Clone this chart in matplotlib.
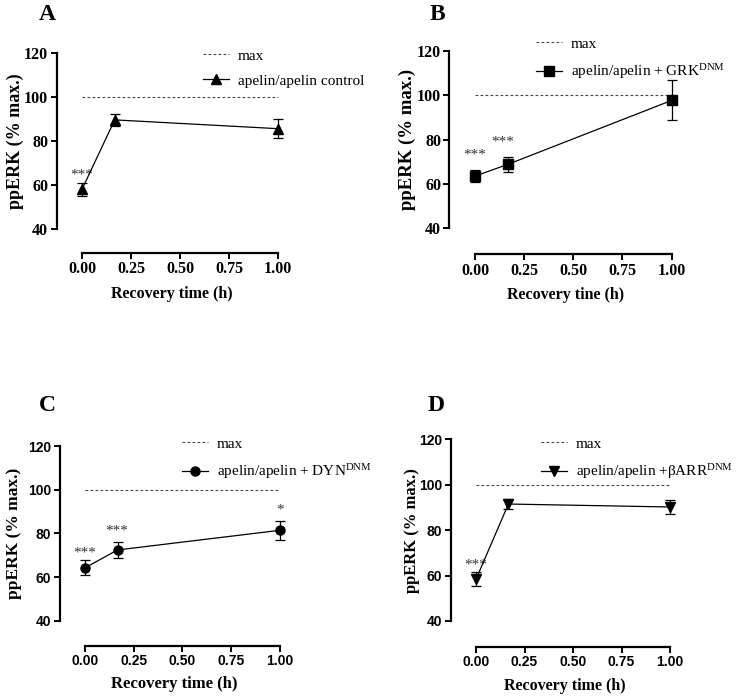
import matplotlib
matplotlib.use("Agg")
import matplotlib.pyplot as plt
from matplotlib.lines import Line2D

plt.rcParams['font.family'] = ['Liberation Serif', 'DejaVu Serif']
plt.rcParams['mathtext.fontset'] = 'custom'
plt.rcParams['mathtext.rm'] = 'Liberation Serif'
plt.rcParams['mathtext.it'] = 'Liberation Serif:italic'
plt.rcParams['mathtext.bf'] = 'Liberation Serif:bold'

# recovery times (h)
times = [0.0, 0.167, 1.0]

# ppERK (% max.) means and SEM per panel
mean_a = [58.0, 89.6, 85.6]
err_a = [3.1, 2.8, 4.2]
mean_b = [63.5, 68.8, 97.6]
err_b = [2.6, 3.4, 9.0]
mean_c = [64.2, 72.4, 81.4]
err_c = [3.4, 3.6, 4.3]
mean_d = [58.4, 91.5, 90.2]
err_d = [3.0, 2.0, 3.0]

labels = ['apelin/apelin control',
          r'apelin/apelin + GRK$^{\mathrm{DNM}}$',
          r'apelin/apelin + DYN$^{\mathrm{DNM}}$',
          'apelin/apelin +\u03b2ARR$^{\\mathrm{DNM}}$']

# significance marks: (text, x, y)
stars_a = [('***', 0.0, 64.5)]
stars_b = [('***', 0.0, 73.0), ('***', 0.14, 79.0)]
stars_c = [('***', 0.0, 71.0), ('***', 0.163, 81.2), ('*', 1.0, 90.6)]
stars_d = [('***', 0.0, 64.6)]

W, H = 738, 698
fig = plt.figure(figsize=(W / 100, H / 100), dpi=100)


def px_axes(left, right, top, bottom):
    return fig.add_axes([left / W, 1 - bottom / H, (right - left) / W, (bottom - top) / H])


panels = [
    dict(letter='A', lpos=(47, 14), box=(56.5, 287.8, 53, 229), off=24,
         mean=mean_a, err=err_a, marker='^', ms=7, label=labels[0], stars=stars_a,
         leg=(203, 49), tickfont='Liberation Serif', tsize=11.5, ysize=13, ylx=24,
         xlabel='Recovery time (h)', xsize=11.5),
    dict(letter='B', lpos=(437, 14), box=(449.4, 681.5, 50.7, 228.3), off=26,
         mean=mean_b, err=err_b, marker='s', ms=6.5, label=labels[1], stars=stars_b,
         leg=(536, 37), tickfont='Liberation Serif', tsize=11.5, ysize=13.5, ylx=416,
         xlabel='Recovery tine (h)', xsize=11.5),
    dict(letter='C', lpos=(47, 406), box=(59.6, 289.75, 446, 620.7), off=25,
         mean=mean_c, err=err_c, marker='o', ms=6.5, label=labels[2], stars=stars_c,
         leg=(182, 437), tickfont='Liberation Sans', tsize=10, ysize=12.5, ylx=22,
         xlabel='Recovery time (h)', xsize=12),
    dict(letter='D', lpos=(436, 406), box=(450.8, 679.7, 439.3, 621), off=26,
         mean=mean_d, err=err_d, marker='v', ms=7, label=labels[3], stars=stars_d,
         leg=(541, 437), tickfont='Liberation Sans', tsize=10, ysize=12, ylx=420,
         xlabel='Recovery time (h)', xsize=11.5),
]

for p in panels:
    ax = px_axes(*p['box'])
    ax.set_xlim(-0.13, 1.05)
    ax.set_ylim(40, 120)

    ax.plot([0, 1], [100, 100], color='#444444', lw=0.8,
            linestyle=(0, (2.5, 2)), clip_on=False)
    ax.errorbar(times, p['mean'], yerr=p['err'], color='black', lw=0.9,
                marker=p['marker'], ms=p['ms'], elinewidth=0.9, capsize=3.5,
                capthick=0.9, clip_on=False, zorder=3)

    for txt, sx, sy in p['stars']:
        ax.text(sx, sy, txt, ha='center', va='center', fontsize=11,
                color='#333333')

    for s in ['top', 'right']:
        ax.spines[s].set_visible(False)
    ax.spines['left'].set_bounds(40, 120)
    ax.spines['bottom'].set_bounds(0, 1)
    ax.spines['bottom'].set_position(('outward', p['off'] * 0.72))
    for s in ['left', 'bottom']:
        ax.spines[s].set_linewidth(1.6)

    ax.set_yticks([40, 60, 80, 100, 120])
    ax.set_xticks([0, 0.25, 0.5, 0.75, 1.0])
    ax.set_xticklabels(['0.00', '0.25', '0.50', '0.75', '1.00'])
    ax.tick_params(axis='both', direction='out', length=4.5, width=1.4, pad=1.5)
    for lab in ax.get_xticklabels() + ax.get_yticklabels():
        lab.set_fontfamily(p['tickfont'])
        lab.set_fontweight('bold')
        lab.set_fontsize(p['tsize'])

    ax.set_ylabel('ppERK (% max.)', fontsize=p['ysize'], fontweight='bold')
    axw = p['box'][1] - p['box'][0]
    ax.yaxis.set_label_coords((p['ylx'] - p['box'][0]) / axw, 0.5)
    ax.set_xlabel(p['xlabel'], fontsize=p['xsize'], fontweight='bold',
                  labelpad=6)

    handles = [Line2D([], [], color='#444444', lw=0.8, linestyle=(0, (2.5, 2))),
               Line2D([], [], color='black', lw=0.9, marker=p['marker'],
                      ms=p['ms'])]
    lx, ly = p['leg']
    ax.legend(handles, ['max', p['label']], loc='upper left',
              bbox_to_anchor=(lx / W, 1 - ly / H), bbox_transform=fig.transFigure,
              frameon=False, fontsize=11, borderpad=0, borderaxespad=0,
              handlelength=1.7, handletextpad=0.6, labelspacing=0.75,
              numpoints=1)

    fig.text(p['lpos'][0] / W, 1 - p['lpos'][1] / H, p['letter'], ha='center',
             va='center', fontsize=17, fontweight='bold')

fig.savefig('out.png', dpi=100)
